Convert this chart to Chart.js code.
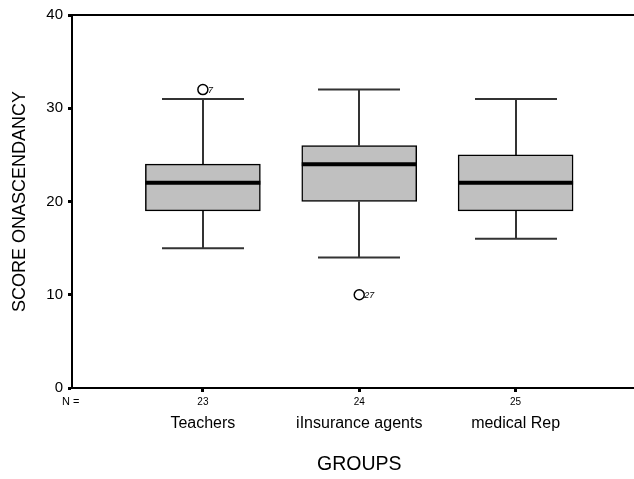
<!DOCTYPE html>
<html>
<head>
<meta charset="utf-8">
<script src="https://cdn.jsdelivr.net/npm/chart.js@4.4.1/dist/chart.umd.min.js"></script>
<style>
  html, body { margin: 0; padding: 0; background: #fff; overflow: hidden; }
  #wrap { width: 634px; height: 479px; overflow: hidden; }
</style>
</head>
<body>
<!-- canvas is a few px wider than the page so the frame lines run to the edge -->
<div id="wrap"><canvas id="chart" width="640" height="479"></canvas></div>
<script>
// box plot data
const groups = ["Teachers", "iInsurance agents", "medical Rep"];
const nCounts = [23, 24, 25];
const lowerWhisker = [15, 14, 16];
const q1 = [19, 20, 19];
const median = [22, 24, 22];
const q3 = [24, 26, 25];
const upperWhisker = [31, 32, 31];
// outliers: group number (1-based), value, case label
const outlierGroup = [1, 2];
const outlierValue = [32, 10];
const outlierCase = ["7", "27"];
const yTicks = [0, 10, 20, 30, 40];

const FONT = "'Liberation Sans', Arial, sans-serif";
const X_MIN = 0.163, X_MAX = 3.754;
const BOX_W = 115, CAP_W = 82;

const groupTicks = (s) => { s.ticks = groups.map((g, i) => ({ value: i + 1 })); };

const boxParts = {
  id: "boxParts",
  beforeDatasetsDraw(chart) {
    const { ctx, scales: { x, y } } = chart;
    ctx.save();
    ctx.strokeStyle = "#333";
    ctx.lineWidth = 2;
    groups.forEach((g, i) => {
      const cx = Math.round(x.getPixelForValue(i + 1));
      ctx.beginPath();
      ctx.moveTo(cx, y.getPixelForValue(q3[i]));
      ctx.lineTo(cx, y.getPixelForValue(upperWhisker[i]));
      ctx.moveTo(cx, y.getPixelForValue(q1[i]));
      ctx.lineTo(cx, y.getPixelForValue(lowerWhisker[i]));
      [upperWhisker[i], lowerWhisker[i]].forEach((v) => {
        const py = y.getPixelForValue(v);
        ctx.moveTo(cx - CAP_W / 2, py);
        ctx.lineTo(cx + CAP_W / 2, py);
      });
      ctx.stroke();
    });
    ctx.restore();
  },
  afterDatasetsDraw(chart) {
    const { ctx, scales: { x, y } } = chart;
    ctx.save();
    ctx.strokeStyle = "#000";
    ctx.lineWidth = 4;
    groups.forEach((g, i) => {
      const cx = x.getPixelForValue(i + 1);
      const py = y.getPixelForValue(median[i]);
      ctx.beginPath();
      ctx.moveTo(cx - BOX_W / 2, py);
      ctx.lineTo(cx + BOX_W / 2, py);
      ctx.stroke();
    });
    // case numbers next to the outliers
    ctx.fillStyle = "#000";
    ctx.font = "italic 9px " + FONT;
    ctx.textBaseline = "middle";
    outlierGroup.forEach((gi, k) => {
      ctx.fillText(outlierCase[k], x.getPixelForValue(gi) + 5, y.getPixelForValue(outlierValue[k]) + 1);
    });
    ctx.restore();
  },
  afterDraw(chart) {
    const { ctx, chartArea, scales: { x } } = chart;
    ctx.save();
    ctx.fillStyle = "#000";
    ctx.font = "11px " + FONT;
    ctx.textAlign = "left";
    ctx.textBaseline = "middle";
    ctx.fillText("N =", chartArea.left - 10, chartArea.bottom + 14);
    // axis title, centred under the middle group as SPSS does
    ctx.font = "19.5px " + FONT;
    ctx.textAlign = "center";
    ctx.fillText("GROUPS", x.getPixelForValue(2), 465);
    ctx.restore();
  }
};

new Chart(document.getElementById("chart"), {
  type: "bar",
  data: {
    datasets: [
      {
        label: "box",
        data: groups.map((g, i) => ({ x: i + 1, y: [q1[i], q3[i]] })),
        backgroundColor: "#c0c0c0",
        borderColor: "#000",
        borderWidth: 1.5,
        borderSkipped: false,
        barThickness: BOX_W,
        xAxisID: "x",
        yAxisID: "y",
        order: 2
      },
      {
        type: "scatter",
        label: "outliers",
        data: outlierGroup.map((gi, k) => ({ x: gi, y: outlierValue[k] })),
        pointStyle: "circle",
        pointRadius: 5,
        pointBackgroundColor: "#fff",
        pointBorderColor: "#000",
        pointBorderWidth: 1.5,
        xAxisID: "x",
        yAxisID: "y",
        order: 1
      }
    ]
  },
  options: {
    responsive: false,
    animation: false,
    layout: { padding: 0 },
    plugins: { legend: { display: false }, tooltip: { enabled: false } },
    scales: {
      y: {
        type: "linear",
        min: 0,
        max: 40,
        afterBuildTicks: (s) => { s.ticks = yTicks.map((v) => ({ value: v })); },
        afterFit: (s) => { s.width = 72; },
        ticks: { color: "#000", font: { family: FONT, size: 15 }, padding: 5 },
        grid: { drawOnChartArea: false, tickLength: 4, tickWidth: 3, tickColor: "#000" },
        border: { color: "#000", width: 2 },
        title: {
          display: true,
          text: "SCORE ONASCENDANCY",
          color: "#000",
          font: { family: FONT, size: 18 },
          padding: { top: 9, bottom: 0 }
        }
      },
      top: {
        type: "linear",
        position: "top",
        offset: false,
        min: X_MIN,
        max: X_MAX,
        afterFit: (s) => { s.height = 15; },
        ticks: { display: false },
        grid: { display: false, offset: false },
        border: { color: "#000", width: 2 }
      },
      x: {
        type: "linear",
        position: "bottom",
        weight: 0,
        offset: false,
        min: X_MIN,
        max: X_MAX,
        afterBuildTicks: groupTicks,
        afterFit: (s) => { s.height = 22; },
        ticks: {
          color: "#000",
          font: { family: FONT, size: 10 },
          padding: 4,
          maxRotation: 0,
          callback: (v) => nCounts[Math.round(v) - 1]
        },
        grid: { offset: false, drawOnChartArea: false, tickLength: 4, tickWidth: 3, tickColor: "#000" },
        border: { color: "#000", width: 2 }
      },
      x2: {
        type: "linear",
        position: "bottom",
        weight: 1,
        offset: false,
        min: X_MIN,
        max: X_MAX,
        afterBuildTicks: groupTicks,
        afterFit: (s) => { s.height = 69; },
        ticks: {
          color: "#000",
          font: { family: FONT, size: 16 },
          padding: 4,
          maxRotation: 0,
          callback: (v) => groups[Math.round(v) - 1]
        },
        grid: { display: false, drawTicks: false, offset: false },
        border: { display: false }
      }
    }
  },
  plugins: [boxParts]
});
</script>
</body>
</html>
